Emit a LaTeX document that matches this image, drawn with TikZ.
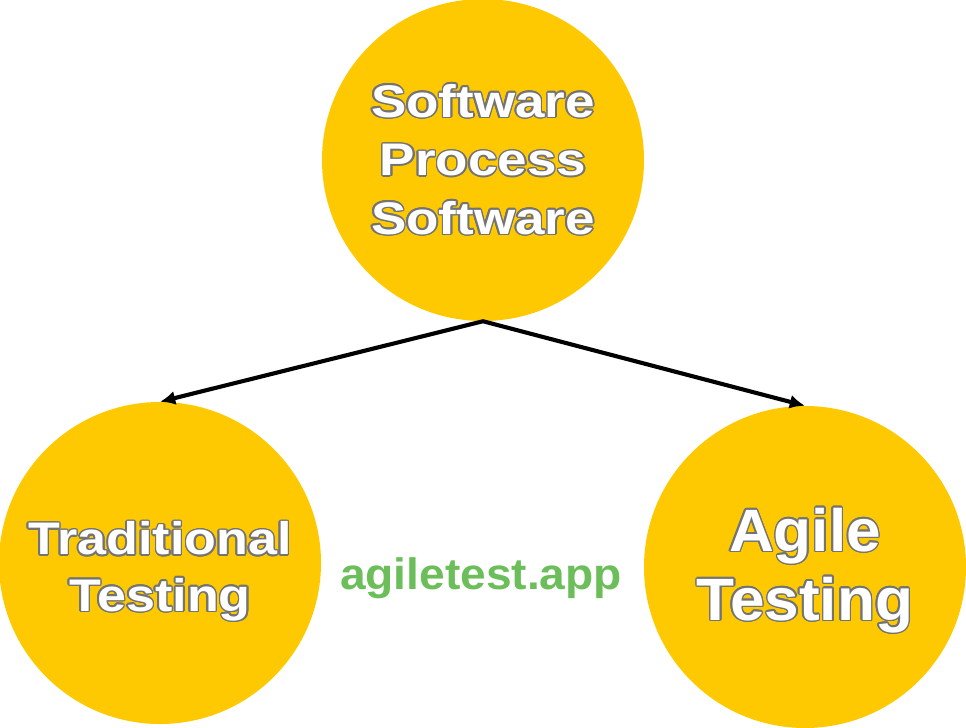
\documentclass[tikz,border=0pt]{standalone}
\usepackage{fontspec}
\setmainfont{Liberation Sans}
\usepackage{contour}
\usetikzlibrary{arrows.meta}
\definecolor{discyellow}{RGB}{254,201,0}
\definecolor{outlinegray}{RGB}{115,115,115}
\definecolor{sitegreen}{RGB}{108,190,90}
\contourlength{1.2pt}
\contournumber{16}
\newcommand{\outlined}[2]{\scalebox{#1}[1]{\contour{outlinegray}{#2}}}

\begin{document}
\begin{tikzpicture}[x=0.03cm,y=-0.03cm,
  disc/.style={circle,fill=discyellow,minimum size=9.66cm,inner sep=0pt},
  lbl/.style={text=white,align=center,inner sep=0pt},
  link/.style={line width=3.5pt,{Latex[length=13pt,width=12pt]}-{Latex[length=13pt,width=12pt]}}]
\clip (0,0) rectangle (966,728);
\node[disc] (sw) at (483,160) {};
\node[disc] (trad) at (160,563) {};
\node[disc] (agile) at (805,567) {};
\node[lbl,font=\bfseries\fontsize{39}{50}\selectfont] (swtext) at (sw)
  {\outlined{1.16}{Software}\\ \outlined{1.16}{Process}\\ \outlined{1.16}{Software}};
\node[lbl,font=\bfseries\fontsize{39}{48}\selectfont,yshift=-7.7pt] (tradtext) at (trad)
  {\outlined{1.14}{Traditional}\\ \outlined{1.14}{Testing}};
\node[lbl,font=\bfseries\fontsize{51}{59}\selectfont,yshift=-3.4pt] (agiletext) at (agile)
  {\outlined{1.04}{Agile}\\ \outlined{1.04}{Testing}};
\node[text=sitegreen,font=\bfseries\fontsize{37.5}{45}\selectfont,inner sep=0pt] (site) at (481,578)
  {\scalebox{1.05}[1]{agiletest.app}};
\draw[link] (trad.north) -- (sw.south) -- (agile.north);
\end{tikzpicture}
\end{document}
